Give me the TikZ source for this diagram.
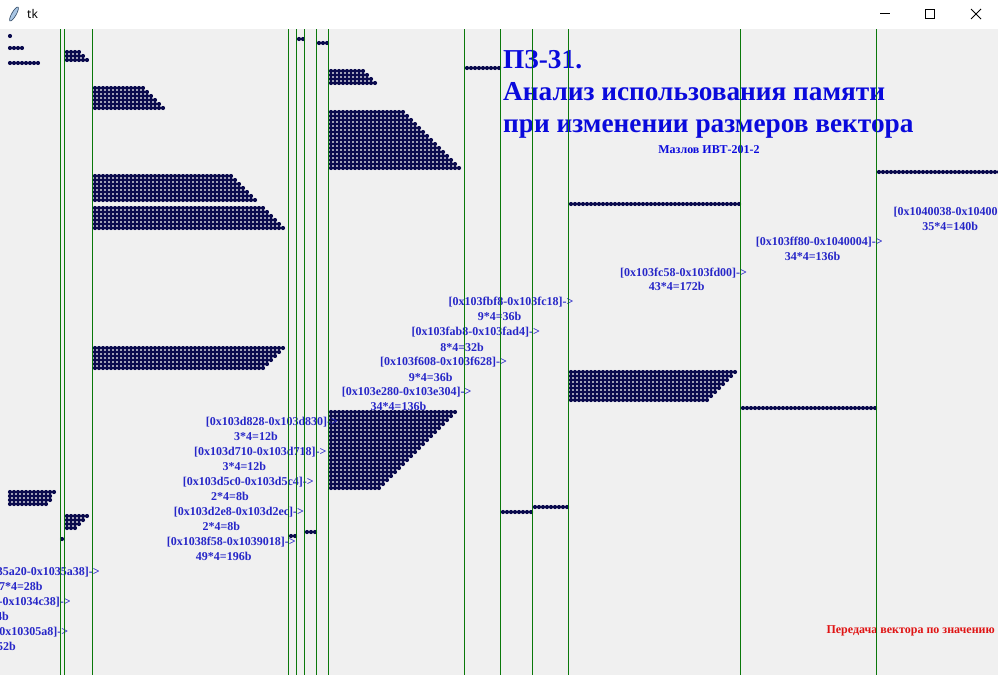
\documentclass[tikz,border=0pt]{standalone}
\usepackage{fontspec}
\setmainfont{Liberation Serif}
\newfontfamily\uifont{Noto Sans}

\definecolor{canvasbg}{HTML}{F0F0F0}
\definecolor{cellnavy}{HTML}{0B0B4E}
\definecolor{gridgreen}{HTML}{0A780A}
\definecolor{addrblue}{HTML}{2626C8}
\definecolor{titleblue}{HTML}{0A0ADC}
\definecolor{notered}{HTML}{E01414}
\definecolor{featherblue}{HTML}{A9C6E4}
\definecolor{featherdark}{HTML}{2D4560}

\tikzset{
  memcell/.style={draw=cellnavy, line width=4.2pt, line cap=round, dash pattern=on 0pt off 4pt},
  border/.style={draw=gridgreen, line width=1pt},
  addr/.style={text=addrblue, inner sep=0pt, font=\bfseries\fontsize{12}{15}\selectfont},
  heading/.style={text=titleblue, inner sep=0pt, anchor=base west, font=\bfseries\fontsize{27.3}{32}\selectfont},
  winbtn/.style={draw=black, line width=0.8pt}
}

% x0, y0, rows, end of first row, end of last row
\newcommand{\cellblock}[5]{
  \foreach \r in {1,...,#3}{
    \pgfmathsetmacro{\xe}{#4+(#5-#4)*(\r-1)/max(#3-1,1)+0.5}
    \draw[memcell] (#1,#2+4*\r-4) -- (\xe,#2+4*\r-4);
  }
}

\begin{document}
\begin{tikzpicture}[x=1pt, y=-1pt]
  \useasboundingbox (0,0) rectangle (998,675);
  \fill[white] (0,0) rectangle (998,29);
  \fill[canvasbg] (0,29) rectangle (998,675);

  % window title bar
  \filldraw[fill=featherblue, draw=featherdark, line width=0.6pt, rotate around={60:(14,14)}] (14,14) ellipse (8 and 2.2);
  \node[anchor=west, inner sep=0pt, font=\uifont\fontsize{12}{14}\selectfont] (wintitle) at (27,14) {tk};
  \draw[winbtn] (880,13.5) -- (890,13.5);
  \draw[winbtn] (925,9) rectangle (934,18);
  \draw[winbtn] (971,9) -- (981,19) (981,9) -- (971,19);

  % title
  \node[heading] (title1) at (503,68) {ПЗ-31.};
  \node[heading] (title2) at (503,100) {Анализ использования памяти};
  \node[heading] (title3) at (503,132) {при изменении размеров вектора};
  \node[addr, text=titleblue] (author) at (709,150) {Мазлов ИВТ-201-2};
  \node[addr, text=notered, anchor=east] (mode) at (995,631) {Передача вектора по значению};

  % labels behind the blocks
  \node[addr, anchor=west] (a1) at (448.5,302) {[0x103fbf8-0x103fc18]->};
  \node[addr] (s1) at (499.5,316.5) {9*4=36b};
  \node[addr, anchor=west] (a2) at (411.5,332) {[0x103fab8-0x103fad4]->};
  \node[addr] (s2) at (462,347) {8*4=32b};
  \node[addr, anchor=west] (a3) at (380,362) {[0x103f608-0x103f628]->};
  \node[addr] (s3) at (430.7,377) {9*4=36b};
  \node[addr, anchor=west] (a4) at (341.7,392) {[0x103e280-0x103e304]->};
  \node[addr] (s4) at (398.5,406.5) {34*4=136b};
  \node[addr, anchor=west] (a13) at (620,272.7) {[0x103fc58-0x103fd00]->};
  \node[addr] (s13) at (676.7,286.5) {43*4=172b};
  \node[addr, anchor=west] (a14) at (755.7,242.3) {[0x103ff80-0x1040004]->};
  \node[addr] (s14) at (812.5,256.7) {34*4=136b};
  \node[addr, anchor=west] (a15) at (893.3,211.7) {[0x1040038-0x10400c0]->};
  \node[addr] (s15) at (950.2,226.7) {35*4=140b};

  % memory cells
  \cellblock{10}{36}{1}{10}{10}
  \cellblock{10}{48}{1}{22}{22}
  \cellblock{10}{63}{1}{38}{38}
  \cellblock{67}{52}{3}{81}{89}
  \cellblock{95}{88}{6}{145}{166}
  \cellblock{95}{176}{7}{234}{257}
  \cellblock{95}{208}{6}{265}{286}
  \cellblock{95}{348}{6}{286}{265}
  \cellblock{299}{39}{1}{303}{303}
  \cellblock{319}{43}{1}{327}{327}
  \cellblock{331}{71}{4}{365}{377}
  \cellblock{331}{112}{15}{406}{461}
  \cellblock{331}{412}{20}{458}{382}
  \cellblock{467}{68}{1}{499}{499}
  \cellblock{571}{204}{1}{739}{739}
  \cellblock{571}{372}{8}{738}{710}
  \cellblock{743}{408}{1}{875}{875}
  \cellblock{879}{172}{1}{1003}{1003}
  \cellblock{503}{512}{1}{531}{531}
  \cellblock{535}{507}{1}{567}{567}
  \cellblock{10}{492}{4}{57}{46}
  \cellblock{67}{516}{4}{90}{78}
  \cellblock{62}{539}{1}{62}{62}
  \cellblock{291}{536}{1}{295}{295}
  \cellblock{307}{532}{1}{315}{315}

  % labels over the blocks
  \node[addr, anchor=west] (a5) at (205.7,421.7) {[0x103d828-0x103d830]->};
  \node[addr] (s5) at (256,436.7) {3*4=12b};
  \node[addr, anchor=west] (a6) at (194,452) {[0x103d710-0x103d718]->};
  \node[addr] (s6) at (244.3,466.7) {3*4=12b};
  \node[addr, anchor=west] (a7) at (182.7,482) {[0x103d5c0-0x103d5c4]->};
  \node[addr] (s7) at (230,496.7) {2*4=8b};
  \node[addr, anchor=west] (a8) at (173.7,511.7) {[0x103d2e8-0x103d2ec]->};
  \node[addr] (s8) at (221.3,526.7) {2*4=8b};
  \node[addr, anchor=west] (a9) at (166.7,541.7) {[0x1038f58-0x1039018]->};
  \node[addr] (s9) at (223.7,556.7) {49*4=196b};
  \node[addr, anchor=east] (a10) at (100,572.3) {[0x1035a20-0x1035a38]->};
  \node[addr] (s10) at (20.8,586.7) {7*4=28b};
  \node[addr, anchor=east] (a11) at (71,602.3) {-0x1034c38]->};
  \node[addr, anchor=east] (s11) at (9,616.7) {4b};
  \node[addr, anchor=east] (a12) at (68.3,631.7) {0x10305a8]->};
  \node[addr, anchor=east] (s12) at (16,646.7) {52b};

  % block borders
  \foreach \gx in {60.5,64.5,92.5,288.5,296.5,304.5,316.5,328.5,464.5,500.5,532.5,568.5,740.5,876.5}
    \draw[border] (\gx,29) -- (\gx,675);
\end{tikzpicture}
\end{document}
